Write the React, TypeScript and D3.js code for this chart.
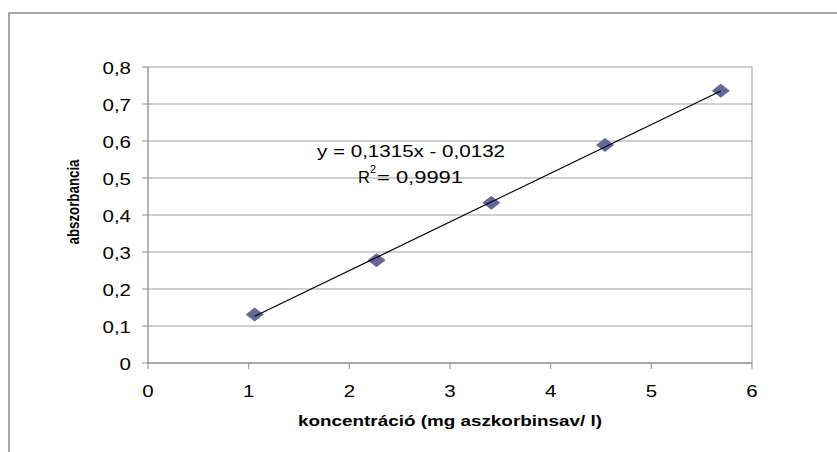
import React from "react";
import * as d3 from "d3";

const concentrations = [1.06, 2.27, 3.41, 4.54, 5.69];
const absorbances = [0.131, 0.278, 0.433, 0.589, 0.736];
const xTicks = [0, 1, 2, 3, 4, 5, 6];
const yTicks = [0, 0.1, 0.2, 0.3, 0.4, 0.5, 0.6, 0.7, 0.8];
const slope = 0.1315;
const intercept = -0.0132;
const equationText = "y = 0,1315x - 0,0132";
const r2Value = "= 0,9991";
const xTitle = "koncentráció (mg aszkorbinsav/ l)";
const yTitle = "abszorbancia";

const W = 837;
const H = 452;
const FONT = "Arial, 'Liberation Sans', sans-serif";
const SX = 1.28;

export default function App() {
  const x = d3.scaleLinear().domain([0, 6]).range([148, 752]);
  const y = d3.scaleLinear().domain([0, 0.8]).range([363, 67]);
  const fmt = (v: number) => String(Math.round(v * 10) / 10).replace(".", ",");
  const x0 = d3.min(concentrations)!;
  const x1 = d3.max(concentrations)!;
  const line = d3
    .line<number>()
    .x((d) => x(d))
    .y((d) => y(slope * d + intercept));
  const diamond = (cx: number, cy: number) =>
    `M${cx - 9},${cy}L${cx},${cy - 7}L${cx + 9},${cy}L${cx},${cy + 7}Z`;

  return (
    <svg
      width={W}
      height={H}
      style={{ position: "absolute", left: 0, top: 0, background: "#fff" }}
      fontFamily={FONT}
    >
      <rect x={0} y={0} width={W} height={H} fill="#fff" />
      {/* outer frame */}
      <path d={`M9,${H + 5}V13H${W + 5}`} fill="none" stroke="#8c8c8c" strokeWidth={1.5} />
      {/* gridlines */}
      {yTicks.slice(1).map((t) => (
        <line key={t} x1={x(0)} x2={x(6)} y1={y(t)} y2={y(t)} stroke="#9f9f9f" strokeWidth={1} />
      ))}
      {/* plot right border */}
      <line x1={x(6)} x2={x(6)} y1={y(0.8)} y2={y(0)} stroke="#999" strokeWidth={1} />
      {/* axes */}
      <line x1={x(0)} x2={x(0)} y1={y(0.8)} y2={y(0)} stroke="#8c8c8c" strokeWidth={1.3} />
      <line x1={x(0)} x2={x(6)} y1={y(0)} y2={y(0)} stroke="#8c8c8c" strokeWidth={1.3} />
      {yTicks.map((t) => (
        <line key={t} x1={x(0) - 6} x2={x(0)} y1={y(t)} y2={y(t)} stroke="#8c8c8c" />
      ))}
      {xTicks.map((t) => (
        <line key={t} x1={x(t)} x2={x(t)} y1={y(0)} y2={y(0) + 6} stroke="#8c8c8c" />
      ))}
      {/* tick labels */}
      {yTicks.map((t) => (
        <text
          key={t}
          transform={`translate(131,${y(t) + 7}) scale(${SX},1)`}
          textAnchor="end"
          fontSize={16}
          fill="#000"
        >
          {fmt(t)}
        </text>
      ))}
      {xTicks.map((t) => (
        <text
          key={t}
          transform={`translate(${x(t)},397) scale(${SX},1)`}
          textAnchor="middle"
          fontSize={16}
          fill="#000"
        >
          {fmt(t)}
        </text>
      ))}
      {/* markers */}
      {concentrations.map((c, i) => (
        <path key={i} d={diamond(x(c), y(absorbances[i]))} fill="#666699" />
      ))}
      {/* trendline */}
      <path d={line([x0, x1]) || ""} fill="none" stroke="#000" strokeWidth={1.2} />
      {/* equation */}
      <text x={317} y={157} fontSize={16.5} textLength={188} lengthAdjust="spacingAndGlyphs">
        {equationText}
      </text>
      <text x={358} y={183} fontSize={16.5} textLength={12} lengthAdjust="spacingAndGlyphs">
        R
      </text>
      <text x={370} y={173} fontSize={10} textLength={6} lengthAdjust="spacingAndGlyphs">
        2
      </text>
      <text x={377} y={183} fontSize={16.5} textLength={86} lengthAdjust="spacingAndGlyphs">
        {r2Value}
      </text>
      {/* axis titles */}
      <text
        x={298}
        y={426}
        fontSize={15}
        fontWeight="bold"
        textLength={304}
        lengthAdjust="spacingAndGlyphs"
      >
        {xTitle}
      </text>
      <text
        transform="translate(79,202) rotate(-90) scale(1,1.3)"
        textAnchor="middle"
        fontSize={13}
        fontWeight="bold"
        textLength={85}
        lengthAdjust="spacingAndGlyphs"
      >
        {yTitle}
      </text>
    </svg>
  );
}
